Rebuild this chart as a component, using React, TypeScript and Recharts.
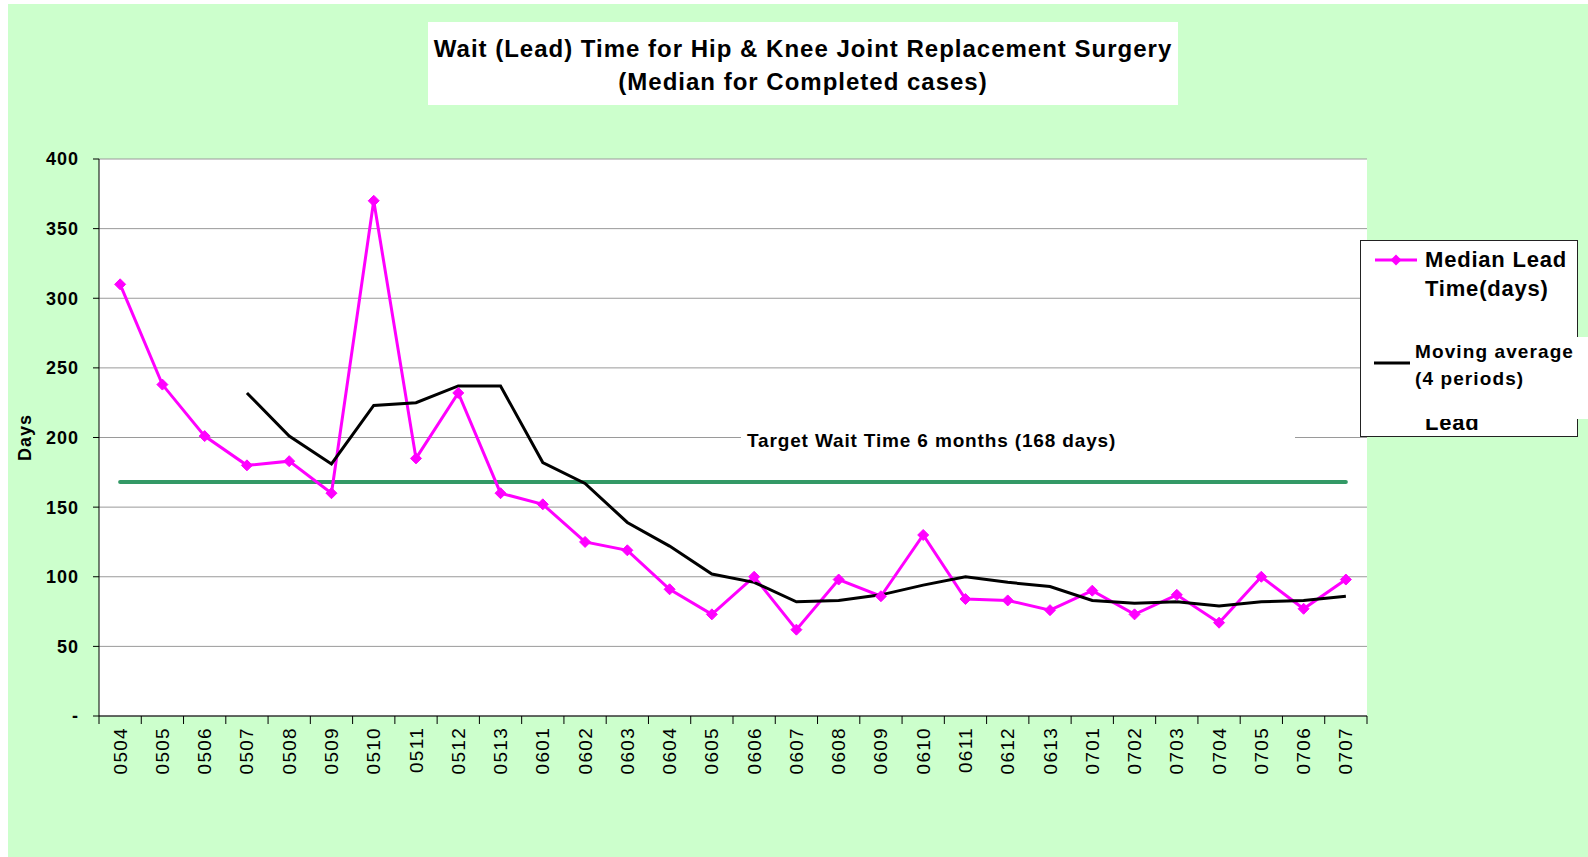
import {
  LineChart,
  Line,
  XAxis,
  YAxis,
  CartesianGrid,
  ReferenceLine,
} from 'recharts'

// categories (year + period)
const months = [
  '0504', '0505', '0506', '0507', '0508', '0509', '0510', '0511', '0512', '0513',
  '0601', '0602', '0603', '0604', '0605', '0606', '0607', '0608', '0609', '0610',
  '0611', '0612', '0613', '0701', '0702', '0703', '0704', '0705', '0706', '0707',
]

// median lead time (days)
const medianLead = [
  310, 238, 201, 180, 183, 160, 370, 185, 232, 160,
  152, 125, 119, 91, 73, 100, 62, 98, 86, 130,
  84, 83, 76, 90, 73, 87, 67, 100, 77, 98,
]

// moving average (4 periods)
const movingAvg = [
  null, null, null, 232, 201, 181, 223, 225, 237, 237,
  182, 167, 139, 122, 102, 96, 82, 83, 87, 94,
  100, 96, 93, 83, 81, 82, 79, 82, 83, 86,
]

const yTicks = [0, 50, 100, 150, 200, 250, 300, 350, 400]
const targetDays = 168

const data = months.map((m, i) => ({
  month: m,
  median: medianLead[i],
  avg: movingAvg[i],
}))

const FONT = 'Arial, "Liberation Sans", sans-serif'
const PLOT_W = 1268
const BAND = PLOT_W / months.length

// diamond marker for the median series
const Diamond = (props: any) => {
  const { cx, cy, index } = props
  if (cx == null || cy == null) return <g key={index} />
  const r = 5.5
  return (
    <path
      key={index}
      d={`M${cx},${cy - r}L${cx + r},${cy}L${cx},${cy + r}L${cx - r},${cy}Z`}
      fill="#FF00FF"
      stroke="#FF00FF"
    />
  )
}

// x tick: tick marks between categories, label rotated
const MonthTick = (props: any) => {
  const { x, y, payload, index } = props
  const half = BAND / 2
  const ty = y + 11
  return (
    <g>
      <line x1={x - half} y1={y} x2={x - half} y2={y + 8} stroke="#000" />
      {index === months.length - 1 && (
        <line x1={x + half} y1={y} x2={x + half} y2={y + 8} stroke="#000" />
      )}
      <text
        x={x}
        y={ty}
        transform={`rotate(-90, ${x}, ${ty})`}
        textAnchor="end"
        dominantBaseline="central"
        fill="#000"
        fontSize={19}
        fontFamily={FONT}
        letterSpacing={1.3}
      >
        {payload.value}
      </text>
    </g>
  )
}

export default function App() {
  return (
    <div style={{ position: 'relative', width: 1588, height: 857, background: '#fff', fontFamily: FONT }}>
      <style>{'body{margin:0}'}</style>

      {/* fondo verde */}
      <div style={{ position: 'absolute', left: 8, top: 4, width: 1580, height: 853, background: '#CCFFCC' }} />

      {/* título */}
      <div
        style={{
          position: 'absolute',
          left: 428,
          top: 22,
          width: 750,
          height: 83,
          background: '#fff',
          textAlign: 'center',
          fontWeight: 'bold',
          fontSize: 24,
          letterSpacing: 1,
          lineHeight: '33px',
          paddingTop: 10,
          boxSizing: 'border-box',
          color: '#000',
          whiteSpace: 'nowrap',
        }}
      >
        <div>Wait (Lead) Time for Hip &amp; Knee Joint Replacement Surgery</div>
        <div>(Median for Completed cases)</div>
      </div>

      <div style={{ position: 'absolute', left: 0, top: 0 }}>
        <LineChart
          width={1588}
          height={857}
          data={data}
          margin={{ top: 159, right: 221, bottom: 0, left: 0 }}
        >
          <CartesianGrid horizontal vertical={false} stroke="#9a9a9a" fill="#fff" />
          <XAxis
            dataKey="month"
            scale="band"
            interval={0}
            height={141}
            tickLine={false}
            tickSize={0}
            tickMargin={0}
            axisLine={{ stroke: '#000' }}
            tick={<MonthTick />}
          />
          <YAxis
            width={99}
            domain={[0, 400]}
            ticks={yTicks}
            interval={0}
            tickSize={6}
            tickMargin={14}
            axisLine={{ stroke: '#000' }}
            tickLine={{ stroke: '#000' }}
            tick={{ fill: '#000', fontSize: 18, fontWeight: 'bold', fontFamily: FONT, letterSpacing: 1 }}
            tickFormatter={(v: number) => (v === 0 ? '-' : String(v))}
            label={{
              value: 'Days',
              angle: -90,
              position: 'insideLeft',
              offset: 25,
              style: { fill: '#000', fontSize: 18, fontWeight: 'bold', fontFamily: FONT, letterSpacing: 1, textAnchor: 'middle' },
            }}
          />
          <ReferenceLine
            segment={[
              { x: months[0], y: targetDays },
              { x: months[months.length - 1], y: targetDays },
            ]}
            stroke="#339966"
            strokeWidth={4}
            strokeLinecap="round"
          />
          <Line
            type="linear"
            dataKey="median"
            stroke="#FF00FF"
            strokeWidth={3}
            dot={<Diamond />}
            activeDot={false}
            isAnimationActive={false}
          />
          <Line
            type="linear"
            dataKey="avg"
            stroke="#000"
            strokeWidth={3}
            dot={false}
            activeDot={false}
            connectNulls={false}
            isAnimationActive={false}
          />
        </LineChart>
      </div>

      {/* etiqueta del objetivo */}
      <div
        style={{
          position: 'absolute',
          left: 741,
          top: 428,
          width: 554,
          height: 26,
          background: '#fff',
          fontWeight: 'bold',
          fontSize: 19,
          letterSpacing: 0.85,
          lineHeight: '26px',
          paddingLeft: 6,
          boxSizing: 'border-box',
          color: '#000',
          whiteSpace: 'nowrap',
        }}
      >
        Target Wait Time 6 months (168 days)
      </div>

      {/* leyenda */}
      <div
        style={{
          position: 'absolute',
          left: 1360,
          top: 240,
          width: 218,
          height: 197,
          border: '1px solid #222',
          background: '#fff',
          overflow: 'hidden',
          boxSizing: 'border-box',
        }}
      >
        <svg style={{ position: 'absolute', left: 13, top: 12 }} width={44} height={14}>
          <line x1={1} y1={7} x2={43} y2={7} stroke="#FF00FF" strokeWidth={3} />
          <path d="M22,1.5L27.5,7L22,12.5L16.5,7Z" fill="#FF00FF" />
        </svg>
        <div
          style={{
            position: 'absolute',
            left: 64,
            top: 4,
            fontWeight: 'bold',
            fontSize: 22,
            lineHeight: '29px',
            letterSpacing: 0.8,
            color: '#000',
            whiteSpace: 'nowrap',
          }}
        >
          Median Lead
          <br />
          Time(days)
        </div>
        <svg style={{ position: 'absolute', left: 13, top: 118 }} width={40} height={8}>
          <line x1={0} y1={4} x2={38} y2={4} stroke="#000" strokeWidth={3} />
        </svg>
        <div
          style={{
            position: 'absolute',
            left: 64,
            top: 171,
            fontWeight: 'bold',
            fontSize: 22,
            lineHeight: '22px',
            letterSpacing: 0.8,
            color: '#000',
            whiteSpace: 'nowrap',
          }}
        >
          Lead
        </div>
      </div>
      <div
        style={{
          position: 'absolute',
          left: 1410,
          top: 337,
          width: 178,
          height: 82,
          background: '#fff',
          fontWeight: 'bold',
          fontSize: 19,
          lineHeight: '27px',
          letterSpacing: 1.1,
          paddingLeft: 5,
          paddingTop: 1,
          boxSizing: 'border-box',
          color: '#000',
          whiteSpace: 'nowrap',
        }}
      >
        Moving average
        <br />
        (4 periods)
      </div>
    </div>
  )
}
